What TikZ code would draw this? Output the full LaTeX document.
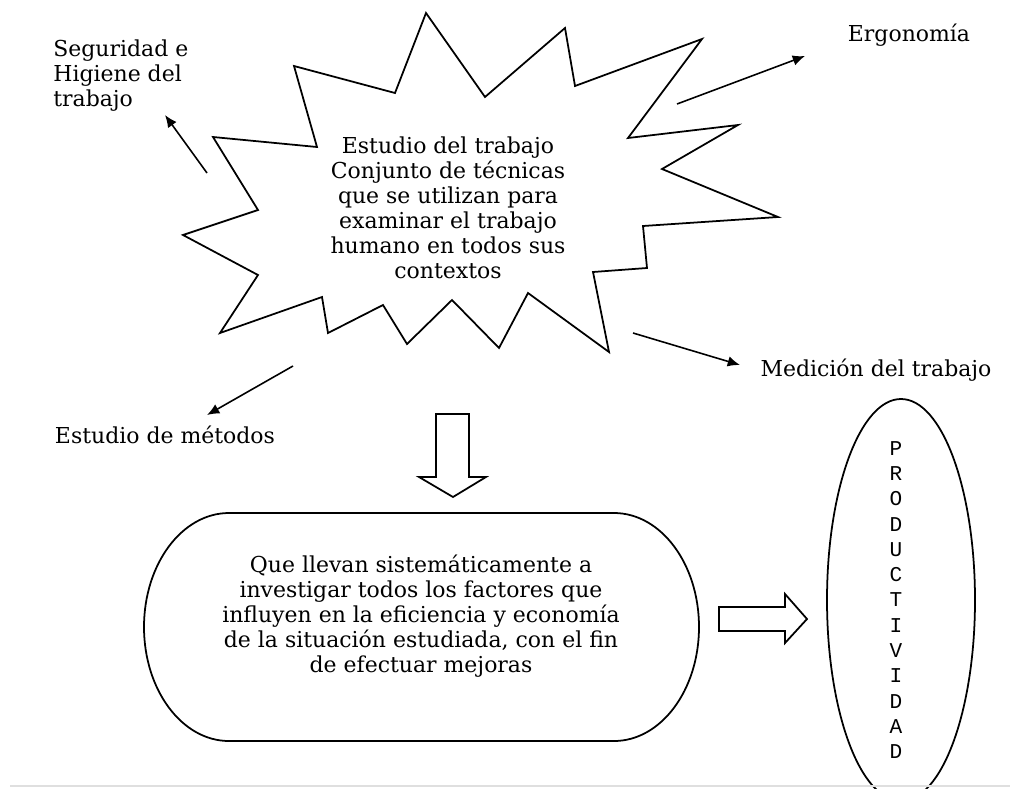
\documentclass[tikz,border=0pt]{standalone}
\usepackage{fontspec}
\setmainfont{DejaVu Serif}
\newfontfamily\monofont{Liberation Mono}
\usetikzlibrary{arrows.meta}
\tikzset{
  lbl/.style={font=\fontsize{12.5}{14.2}\selectfont, inner sep=0pt},
  pointer/.style={-{Latex[length=7pt,width=6pt]}, line width=0.9pt},
  outline/.style={line width=1pt}
}
\begin{document}
\begin{tikzpicture}[x=0.02cm, y=-0.02cm]
        \clip (0,0) rectangle (1010,788);
        \fill[white] (0,0) rectangle (1010,788);
        % star
        \draw[outline, line join=miter] (426,13) -- (485,97) -- (565,28) -- (575,86) -- (702,39)
          -- (628,138) -- (738,125) -- (662,169) -- (778,217) -- (643,226) -- (647,268)
          -- (593,272) -- (609,352) -- (528,293) -- (499,348) -- (452,300) -- (407,344)
          -- (383,305) -- (328,333) -- (322,297) -- (220,333) -- (258,275) -- (183,235)
          -- (258,210) -- (213,137) -- (317,147) -- (294,66) -- (395,93) -- cycle;
        \node[lbl, align=center] (core) at (448,208) {Estudio del trabajo\\Conjunto de técnicas\\que se utilizan para\\examinar el trabajo\\humano en todos sus\\contextos};
        \node[lbl, align=left, anchor=west] (seg) at (53,76) {Seguridad e\\Higiene del\\trabajo};
        \node[lbl] (ergo) at (909,35) {Ergonomía};
        \node[lbl] (med) at (876,370) {Medición del trabajo};
        \node[lbl] (met) at (165,435) {Estudio de métodos};
        \coordinate (s1) at (207,173); \coordinate (s2) at (165,115);
        \coordinate (e1) at (677,104); \coordinate (e2) at (805,56);
        \coordinate (m1) at (633,333); \coordinate (m2) at (740,365);
        \coordinate (t1) at (293,366); \coordinate (t2) at (207,415);
        \draw[pointer] (s1) -- (s2);
        \draw[pointer] (e1) -- (e2);
        \draw[pointer] (m1) -- (m2);
        \draw[pointer] (t1) -- (t2);
        % down arrow
        \draw[outline] (436,414) -- (469,414) -- (469,477) -- (486,477) -- (453,497) -- (419,477) -- (436,477) -- cycle;
        % box
        \draw[outline] (229,513) -- (614,513) arc[start angle=-90, end angle=90, x radius=85, y radius=114]
          -- (229,741) arc[start angle=90, end angle=270, x radius=85, y radius=114] -- cycle;
        \node[lbl, align=center] (goal) at (421,616) {Que llevan sistemáticamente a\\investigar todos los factores que\\influyen en la eficiencia y economía\\de la situación estudiada, con el fin\\de efectuar mejoras};
        % right arrow
        \draw[outline] (719,607) -- (785,607) -- (785,594) -- (807,619) -- (785,643) -- (785,631) -- (719,631) -- cycle;
        \draw[outline] (901,600) ellipse [x radius=74, y radius=201];
        \node[inner sep=0pt, font=\monofont\fontsize{12}{14.4}\selectfont, align=center] (prod) at (896,600)
          {P\\R\\O\\D\\U\\C\\T\\I\\V\\I\\D\\A\\D};
        \draw[gray!25, line width=1pt] (10,786) -- (1010,786);
\end{tikzpicture}
\end{document}
